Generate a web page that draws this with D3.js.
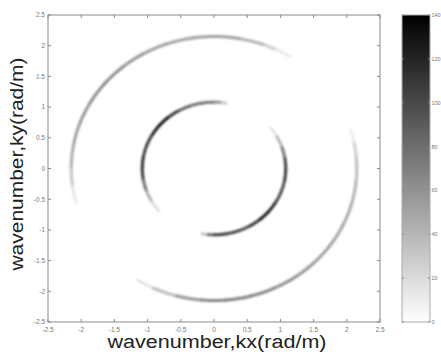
<!DOCTYPE html>
<html>
<head>
<meta charset="utf-8">
<script src="https://cdn.jsdelivr.net/npm/d3@7"></script>
<style>
  body { margin: 0; background: #fff; }
  svg { display: block; font-family: "Liberation Sans", Arial, sans-serif; }
</style>
</head>
<body>
<svg id="chart" width="441" height="360"></svg>
<script>
// axis ticks
const xTicks = [-2.5, -2, -1.5, -1, -0.5, 0, 0.5, 1, 1.5, 2, 2.5];
const yTicks = [-2.5, -2, -1.5, -1, -0.5, 0, 0.5, 1, 1.5, 2, 2.5];
const cbTicks = [0, 20, 40, 60, 80, 100, 120, 140];

// ring radii (rad/m)
const innerR = 1.08;
const outerR = 2.15;

// inner ring, arc going over the top-left (angles in degrees, intensity)
const innerA_ang = [80, 85, 90, 100, 110, 120, 130, 140, 150, 160, 170, 180, 190, 200, 210, 220];
const innerA_val = [10, 50, 70, 80, 75, 95, 125, 140, 115, 100, 110, 120, 95, 60, 30, 5];
// inner ring, arc going over the bottom-right
const innerB_ang = [-100, -95, -90, -80, -70, -60, -50, -40, -30, -20, -10, 0, 10, 20, 30, 38];
const innerB_val = [10, 60, 105, 110, 95, 100, 125, 135, 110, 90, 105, 115, 95, 55, 25, 5];
// outer ring, top-left arc
const outerA_ang = [58, 65, 70, 80, 90, 100, 110, 120, 130, 140, 150, 160, 170, 180, 188, 195];
const outerA_val = [3, 20, 35, 50, 55, 50, 50, 55, 60, 65, 60, 55, 50, 40, 22, 5];
// outer ring, bottom-right arc
const outerB_ang = [-122, -115, -105, -95, -85, -75, -65, -55, -45, -35, -25, -15, -5, 5, 12, 17];
const outerB_val = [5, 25, 50, 65, 70, 70, 65, 60, 55, 50, 50, 45, 40, 35, 18, 3];

const arcs = [
  { r: innerR, ang: innerA_ang, val: innerA_val },
  { r: innerR, ang: innerB_ang, val: innerB_val },
  { r: outerR, ang: outerA_ang, val: outerA_val },
  { r: outerR, ang: outerB_ang, val: outerB_val }
];

const svg = d3.select("#chart");
const pLeft = 48, pRight = 380, pTop = 15, pBottom = 322;

const x = d3.scaleLinear().domain([-2.5, 2.5]).range([pLeft, pRight]);
const y = d3.scaleLinear().domain([-2.5, 2.5]).range([pBottom, pTop]);
const color = d3.scaleLinear().domain([0, 140]).range(["#ffffff", "#000000"]);

const defs = svg.append("defs");
defs.append("filter").attr("id", "blur")
  .attr("x", "-20%").attr("y", "-20%").attr("width", "140%").attr("height", "140%")
  .append("feGaussianBlur").attr("stdDeviation", 1.3);

const grad = defs.append("linearGradient").attr("id", "cbgrad")
  .attr("x1", 0).attr("y1", 1).attr("x2", 0).attr("y2", 0);
grad.append("stop").attr("offset", "0%").attr("stop-color", color(0));
grad.append("stop").attr("offset", "100%").attr("stop-color", color(140));

// rings
const line = d3.line().x(d => x(d[0])).y(d => y(d[1]));
const rings = svg.append("g").attr("filter", "url(#blur)");
arcs.forEach(a => {
  for (let i = 0; i < a.ang.length - 1; i++) {
    const a0 = a.ang[i], a1 = a.ang[i + 1];
    const pts = [];
    for (let t = a0 - 0.6; t <= a1 + 0.6; t += 0.5) {
      const rad = t * Math.PI / 180;
      pts.push([a.r * Math.cos(rad), a.r * Math.sin(rad)]);
    }
    rings.append("path")
      .attr("d", line(pts))
      .attr("fill", "none")
      .attr("stroke", color((a.val[i] + a.val[i + 1]) / 2))
      .attr("stroke-width", 3);
  }
});

// axes box
const axisColor = "#8a8a8a";
svg.append("rect")
  .attr("x", pLeft).attr("y", pTop)
  .attr("width", pRight - pLeft).attr("height", pBottom - pTop)
  .attr("fill", "none").attr("stroke", axisColor).attr("stroke-width", 1);

const tl = 3;
const tg = svg.append("g").attr("stroke", axisColor).attr("stroke-width", 1);
xTicks.forEach(t => {
  tg.append("line").attr("x1", x(t)).attr("x2", x(t)).attr("y1", pBottom).attr("y2", pBottom - tl);
  tg.append("line").attr("x1", x(t)).attr("x2", x(t)).attr("y1", pTop).attr("y2", pTop + tl);
});
yTicks.forEach(t => {
  tg.append("line").attr("x1", pLeft).attr("x2", pLeft + tl).attr("y1", y(t)).attr("y2", y(t));
  tg.append("line").attr("x1", pRight).attr("x2", pRight - tl).attr("y1", y(t)).attr("y2", y(t));
});

svg.append("g").selectAll("text").data(xTicks).join("text")
  .attr("x", d => x(d)).attr("y", 332)
  .attr("text-anchor", "middle")
  .attr("font-size", 6.5).attr("fill", "#777")
  .text(d => d);

svg.append("g").selectAll("text").data(yTicks).join("text")
  .attr("x", pLeft - 3).attr("y", d => y(d) + 2.3)
  .attr("text-anchor", "end")
  .attr("font-size", 6.5).attr("fill", "#777")
  .text(d => d);

// axis labels
svg.append("text")
  .attr("x", 217).attr("y", 348)
  .attr("text-anchor", "middle")
  .attr("font-size", 18).attr("fill", "#222")
  .attr("textLength", 219).attr("lengthAdjust", "spacingAndGlyphs")
  .text("wavenumber,kx(rad/m)");

svg.append("text")
  .attr("transform", "translate(23,164) rotate(-90)")
  .attr("text-anchor", "middle")
  .attr("font-size", 18).attr("fill", "#222")
  .attr("textLength", 213).attr("lengthAdjust", "spacingAndGlyphs")
  .text("wavenumber,ky(rad/m)");

// colorbar
const cbL = 402, cbR = 430;
const cy = d3.scaleLinear().domain([0, 140]).range([pBottom, pTop]);
svg.append("rect")
  .attr("x", cbL).attr("y", pTop)
  .attr("width", cbR - cbL).attr("height", pBottom - pTop)
  .attr("fill", "url(#cbgrad)").attr("stroke", "#aaa").attr("stroke-width", 1);

const cg = svg.append("g").attr("stroke", axisColor).attr("stroke-width", 1);
cbTicks.forEach(t => {
  cg.append("line").attr("x1", cbR).attr("x2", cbR - 2).attr("y1", cy(t)).attr("y2", cy(t));
  cg.append("line").attr("x1", cbL).attr("x2", cbL + 2).attr("y1", cy(t)).attr("y2", cy(t));
});
svg.append("g").selectAll("text").data(cbTicks).join("text")
  .attr("x", cbR + 1.5).attr("y", d => cy(d) + 2)
  .attr("font-size", 5.5).attr("fill", "#777")
  .text(d => d);
</script>
</body>
</html>
